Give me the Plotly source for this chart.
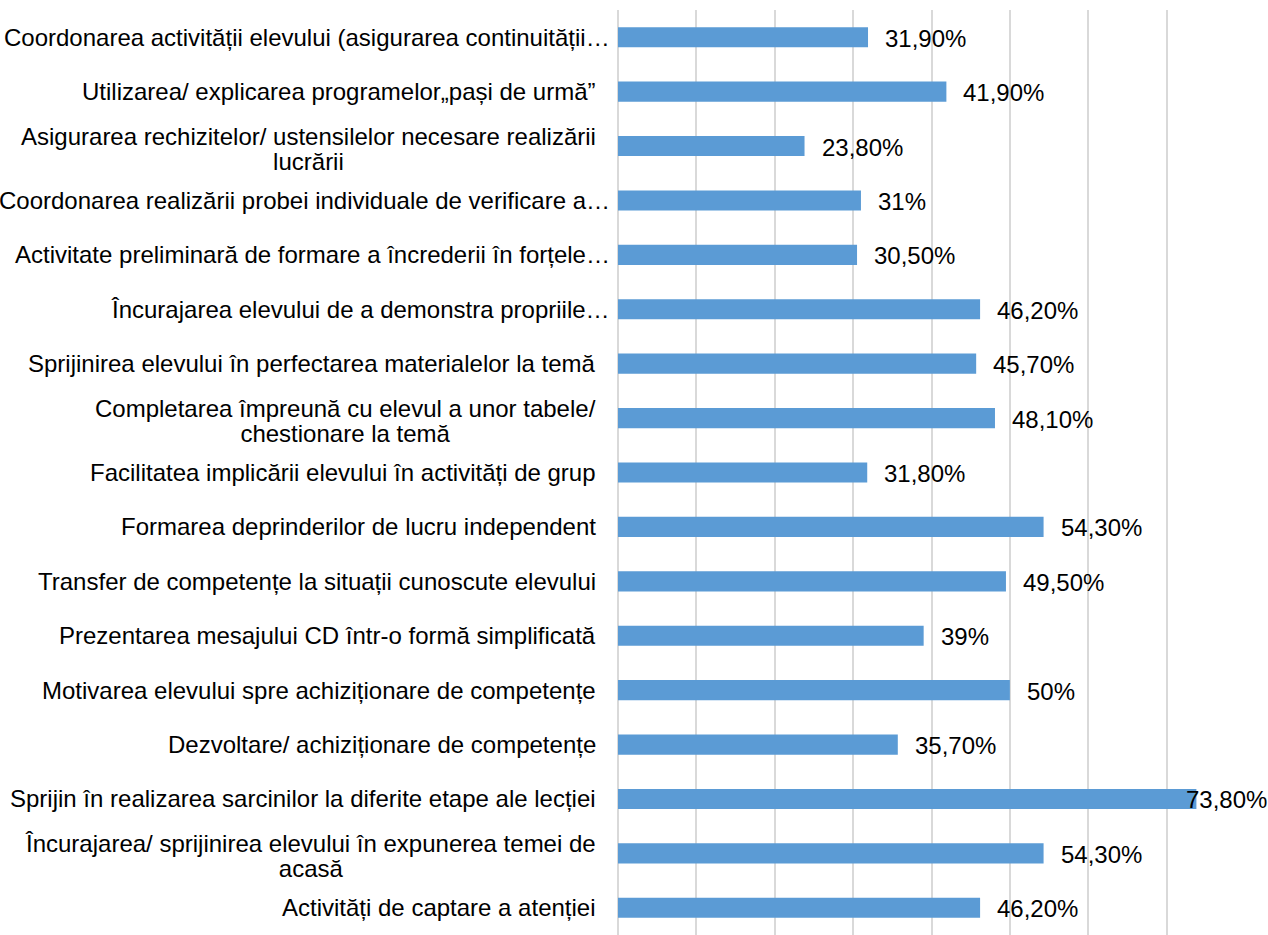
import plotly.graph_objects as go

categories = [
    "Coordonarea activității elevului (asigurarea continuității…",
    "Utilizarea/ explicarea programelor„pași de urmă”",
    "Asigurarea rechizitelor/ ustensilelor necesare realizării<br>lucrării",
    "Coordonarea realizării probei individuale de verificare a…",
    "Activitate preliminară de formare a încrederii în forțele…",
    "Încurajarea elevului de a demonstra propriile…",
    "Sprijinirea elevului în perfectarea materialelor la temă",
    "Completarea împreună cu elevul a unor tabele/<br>chestionare la temă",
    "Facilitatea implicării elevului în activități de grup",
    "Formarea deprinderilor de lucru independent",
    "Transfer de competențe la situații cunoscute elevului",
    "Prezentarea mesajului CD într-o formă simplificată",
    "Motivarea elevului spre achiziționare de competențe",
    "Dezvoltare/ achiziționare de competențe",
    "Sprijin în realizarea sarcinilor la diferite etape ale lecției",
    "Încurajarea/ sprijinirea elevului în expunerea temei de<br>acasă",
    "Activități de captare a atenției",
]
values = [31.9, 41.9, 23.8, 31.0, 30.5, 46.2, 45.7, 48.1, 31.8, 54.3, 49.5, 39.0, 50.0, 35.7, 73.8, 54.3, 46.2]
value_labels = ["31,90%", "41,90%", "23,80%", "31%", "30,50%", "46,20%", "45,70%", "48,10%", "31,80%",
                "54,30%", "49,50%", "39%", "50%", "35,70%", "73,80%", "54,30%", "46,20%"]

FONT = "Liberation Sans, Arial, sans-serif"
FS = 24
W, H = 1268, 935
ML, MR, MT, MB = 618, 23, 10, 0
XMAX = 80
plot_w = W - ML - MR

fig = go.Figure()
fig.add_trace(go.Bar(
    y=categories, x=values, orientation="h",
    marker=dict(color="#5B9BD5", line=dict(width=0)),
    hoverinfo="skip",
))

annotations = []
lab_font = dict(family=FONT, size=FS, color="#000000")
for c in categories:
    xs = -6 if c.endswith("…") else -20
    if "<br>" in c:
        # smaller base font gives tighter line spacing; spans keep the glyph size
        lines = c.split("<br>")
        txt = "<br>".join('<span style="font-size:%dpx">%s</span>' % (FS, ln) for ln in lines)
        annotations.append(dict(
            x=0, xref="paper", y=c, yref="y", text=txt, showarrow=False,
            xanchor="right", yanchor="middle", align="center",
            xshift=xs, yshift=-3, font=dict(family=FONT, size=19.3, color="#000000"),
        ))
    else:
        annotations.append(dict(
            x=0, xref="paper", y=c, yref="y", text=c, showarrow=False,
            xanchor="right", yanchor="middle", align="center",
            xshift=xs, font=lab_font,
        ))

char_w = {",": 6.7, "%": 21.3}
for c, v, lab in zip(categories, values, value_labels):
    est_w = sum(char_w.get(ch, 13.35) for ch in lab)
    px = v / XMAX * plot_w
    shift = 15
    overflow = px + shift + est_w - (plot_w + MR - 3)
    if overflow > 0:
        shift -= overflow
    annotations.append(dict(
        x=v, xref="x", y=c, yref="y", text=lab, showarrow=False,
        xanchor="left", yanchor="middle", xshift=shift, yshift=-1,
        font=lab_font,
    ))

fig.update_layout(
    width=W, height=H,
    margin=dict(l=ML, r=MR, t=MT, b=MB),
    paper_bgcolor="white", plot_bgcolor="white",
    bargap=0.63, showlegend=False,
    annotations=annotations,
    font=dict(family=FONT, size=FS, color="#000000"),
)
fig.update_xaxes(
    range=[0, XMAX], dtick=10, showgrid=True, gridcolor="#D9D9D9", gridwidth=1.5,
    showticklabels=False, zeroline=True, zerolinecolor="#D9D9D9", zerolinewidth=1.5,
    showline=False, ticks="",
)
fig.update_yaxes(
    autorange="reversed", showticklabels=False, showgrid=False, ticks="", showline=False,
)

fig.write_html("out.html")
